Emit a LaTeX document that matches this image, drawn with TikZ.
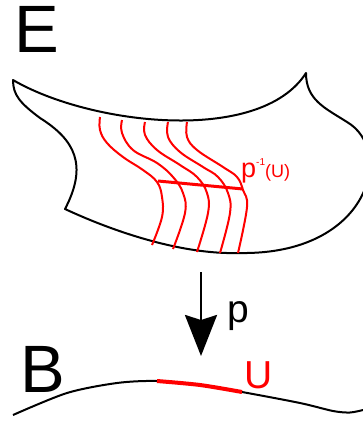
\documentclass[tikz,border=0pt]{standalone}
\usepackage{fontspec}
\setmainfont{Liberation Sans}
\usetikzlibrary{arrows.meta}
\begin{document}
\begin{tikzpicture}[x=1pt,y=-1pt,
  outline/.style={draw=black,line width=2pt,line join=round},
  fibre/.style={draw=red,line width=2pt},
  slice/.style={draw=red,line width=3pt},
  base/.style={draw=black,line width=2pt},
  uset/.style={draw=red,line width=4pt},
  lbl/.style={inner sep=0pt,anchor=base west}]
\useasboundingbox (0,0) rectangle (363,421);
\clip (0,0) rectangle (363,421);
\fill[white] (0,0) rectangle (363,421);
% total space E
\draw[outline] (13,80) .. controls (90,125) and (260,145) .. (306,73)
  .. controls (306,100) and (325,108) .. (347,122)
  .. controls (395,150) and (370,255) .. (240,253)
  .. controls (180,255) and (110,230) .. (65,209)
  .. controls (88,165) and (75,140) .. (40,118)
  .. controls (20,103) and (13,95) .. (13,80) -- cycle;
% fibres
\draw[fibre] plot[smooth,tension=0.65] coordinates {(100,117) (100,130) (107,143) (123,157) (143,170) (157,182) (162,197) (162,217) (152,245)};
\draw[fibre] plot[smooth,tension=0.65] coordinates {(122,120) (122,133) (133,150) (157,163) (173,177) (183,193) (185,213) (173,249)};
\draw[fibre] plot[smooth,tension=0.65] coordinates {(145,122) (145,135) (157,150) (180,165) (197,177) (207,193) (208,213) (197,252)};
\draw[fibre] plot[smooth,tension=0.65] coordinates {(168,122) (168,137) (180,152) (203,167) (218,177) (228,193) (230,213) (220,253)};
\draw[fibre] plot[smooth,tension=0.65] coordinates {(187,122) (187,137) (197,150) (223,167) (237,177) (243,190) (247,207) (238,253)};
\coordinate (sl) at (158,181);
\coordinate (sr) at (243,189);
\draw[slice] (sl) -- (sr);
% base B
\draw[base] plot[smooth] coordinates {(13,415) (67,393) (117,383) (157,381) (200,385) (242,392) (300,403) (333,411) (350,412.5) (363,410)};
\draw[uset] plot[smooth] coordinates {(157,381) (200,385) (242,392)};
% projection arrow
\coordinate (arrtop) at (201,272);
\coordinate (arrtip) at (201,356);
\draw[line width=2.7pt,-{Stealth[length=41pt,width=32pt,inset=5pt]}] (arrtop) -- (arrtip);
% labels
\node[lbl] (lE) at (14,52) {\fontsize{67}{67}\selectfont E};
\node[lbl] (lB) at (20,392) {\fontsize{67}{67}\selectfont B};
\node[lbl] (lp) at (227.5,322) {\fontsize{39}{39}\selectfont p};
\node[lbl,text=red] (lU) at (244,388) {\fontsize{39}{39}\selectfont U};
\node[lbl,text=red] (lpre) at (241,177) {\fontsize{27}{27}\selectfont p\raisebox{12pt}{\fontsize{10}{10}\selectfont -1}\fontsize{18}{18}\selectfont(U)};
\end{tikzpicture}
\end{document}
